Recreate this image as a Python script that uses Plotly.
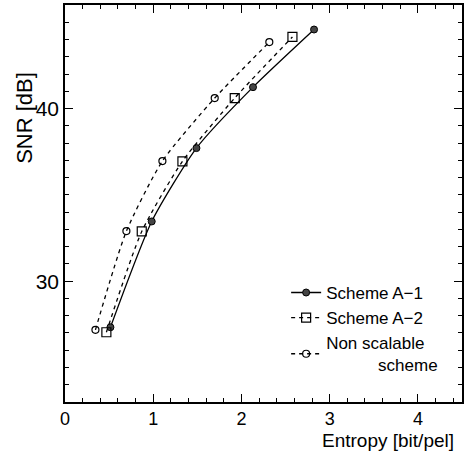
import plotly.graph_objects as go

# Data
a1_x = [0.515, 0.983, 1.490, 2.131, 2.823]
a1_y = [27.33, 33.46, 37.71, 41.24, 44.58]

a2_x = [0.469, 0.870, 1.331, 1.924, 2.578]
a2_y = [27.04, 32.88, 36.94, 40.61, 44.15]

ns_x = [0.345, 0.696, 1.104, 1.697, 2.316]
ns_y = [27.18, 32.90, 36.96, 40.61, 43.85]

names = ["Scheme A\u22121", "Scheme A\u22122", "Non scalable<br>           scheme"]

FONT = "Liberation Sans, Arial, sans-serif"

fig = go.Figure()
fig.add_trace(go.Scatter(
    x=a1_x, y=a1_y, name=names[0], mode="lines+markers",
    line=dict(color="black", width=1.3, shape="spline", smoothing=0.6),
    marker=dict(symbol="circle", size=7, color="#444444", line=dict(color="black", width=1)),
))
fig.add_trace(go.Scatter(
    x=a2_x, y=a2_y, name=names[1], mode="lines+markers",
    line=dict(color="black", width=1.3, dash="4px,4px", shape="spline", smoothing=0.6),
    marker=dict(symbol="square-open", size=9, color="black", line=dict(width=1.2)),
))
fig.add_trace(go.Scatter(
    x=ns_x, y=ns_y, name=names[2], mode="lines+markers",
    line=dict(color="black", width=1.3, dash="4px,4px", shape="spline", smoothing=0.6),
    marker=dict(symbol="circle-open", size=7, color="black", line=dict(width=1.2)),
))

fig.update_layout(
    width=467, height=452,
    margin=dict(l=65, r=5, t=5, b=50, autoexpand=False),
    paper_bgcolor="white", plot_bgcolor="white",
    font=dict(family=FONT, color="black", size=18),
    showlegend=True,
    legend=dict(
        x=0.557, y=0.32, xanchor="left", yanchor="top",
        bgcolor="rgba(0,0,0,0)", borderwidth=0,
        font=dict(family=FONT, size=17), tracegroupgap=2,
    ),
)

fig.update_xaxes(
    range=[0, 4.5], dtick=1, tick0=0, automargin=False,
    showline=True, linecolor="black", linewidth=1.5, mirror="ticks",
    ticks="inside", ticklen=8, tickwidth=1.2, tickcolor="black",
    minor=dict(dtick=0.2, ticks="inside", ticklen=4, tickwidth=1, tickcolor="black"),
    showgrid=False, zeroline=False,
    tickfont=dict(size=18, family=FONT),
)
fig.update_yaxes(
    range=[23, 46], dtick=10, tick0=0, automargin=False,
    showline=True, linecolor="black", linewidth=1.5, mirror="ticks",
    ticks="inside", ticklen=8, tickwidth=1.2, tickcolor="black",
    minor=dict(dtick=1, ticks="inside", ticklen=4, tickwidth=1, tickcolor="black"),
    showgrid=False, zeroline=False,
    tickfont=dict(size=21, family=FONT),
)

fig.add_annotation(
    text="SNR [dB]", xref="paper", yref="paper",
    x=-0.104, y=0.715, xanchor="center", yanchor="middle",
    textangle=-90, showarrow=False, font=dict(size=22, family=FONT),
)
fig.add_annotation(
    text="Entropy [bit/pel]", xref="paper", yref="paper",
    x=0.984, y=-0.096, xanchor="right", yanchor="middle",
    showarrow=False, font=dict(size=19, family=FONT),
)

fig.write_html(
    "out.html",
    config={"displayModeBar": False},
    post_script="document.body.style.margin='0';",
)
